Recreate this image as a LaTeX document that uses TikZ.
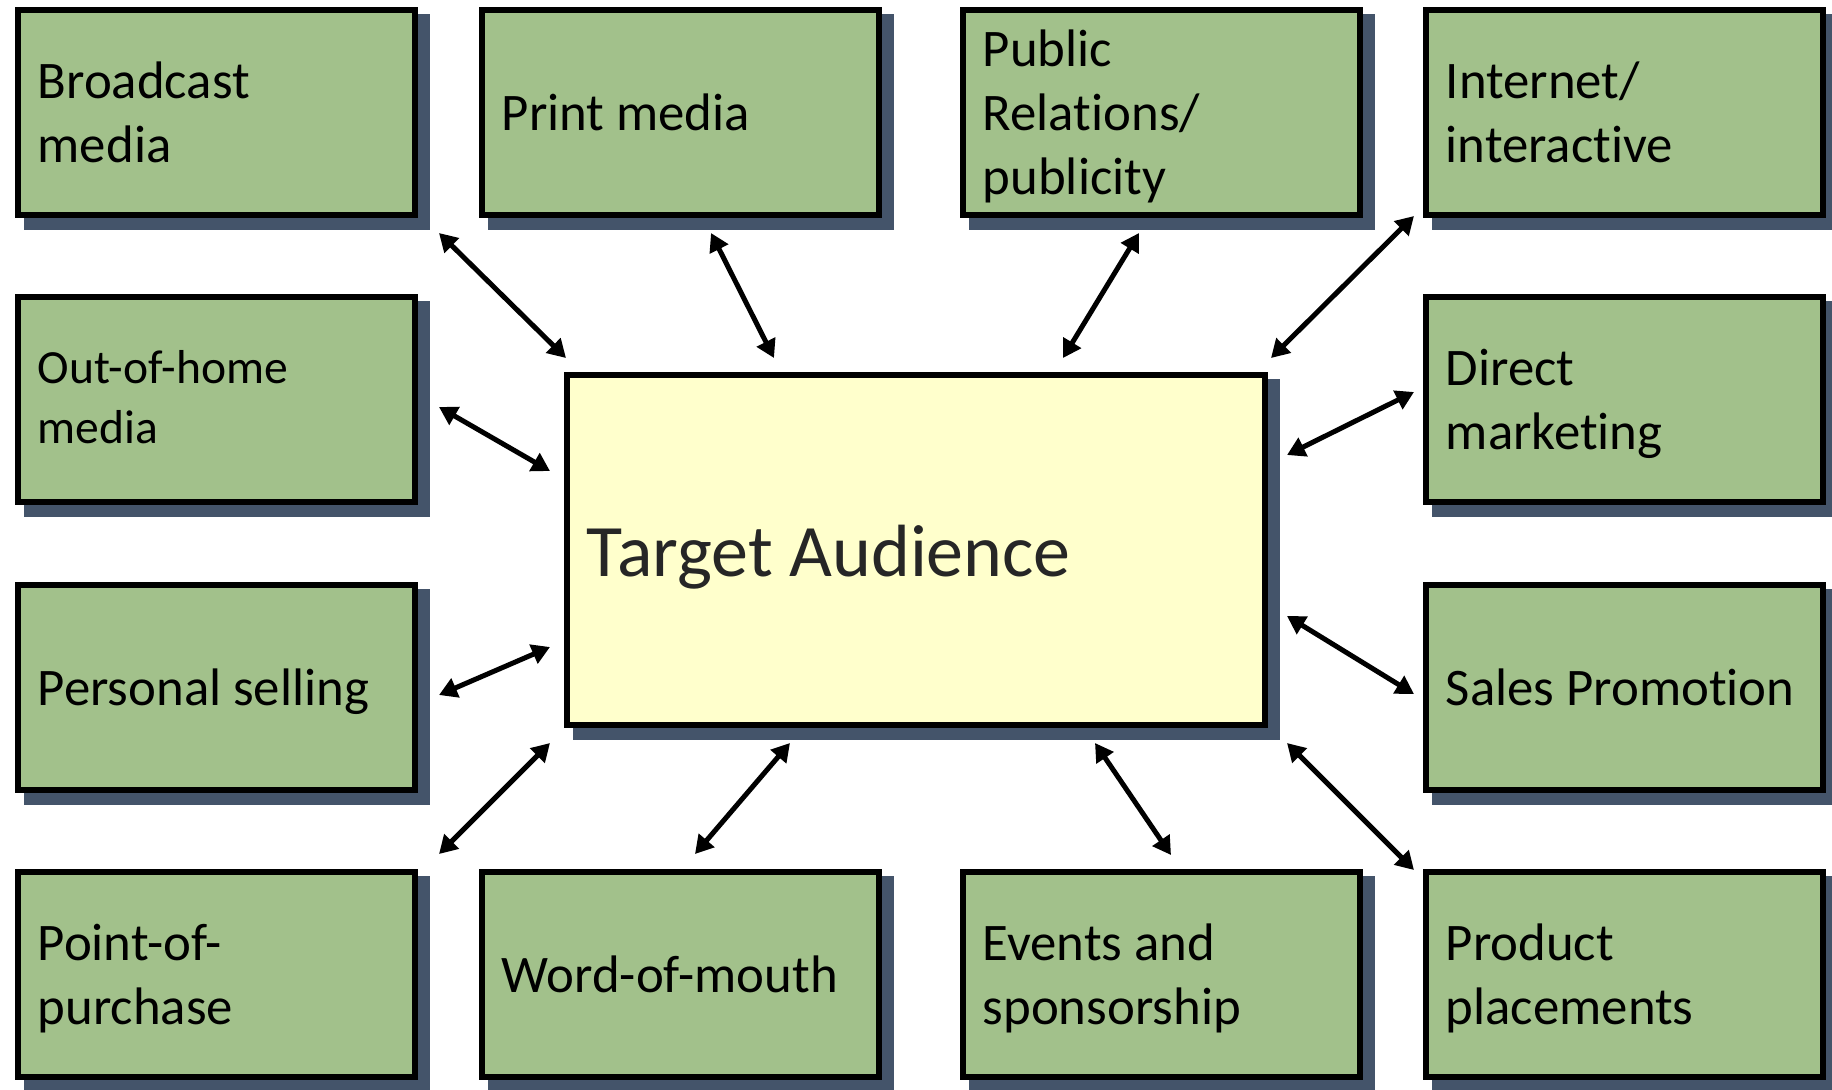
\documentclass[tikz,border=0pt]{standalone}
\usepackage{fontspec}
\setmainfont{Carlito}[Ligatures=NoCommon]
\usetikzlibrary{arrows.meta,backgrounds}

\definecolor{boxgreen}{HTML}{A2C18B}
\definecolor{shadowblue}{HTML}{44546A}
\definecolor{audience}{HTML}{FFFFCC}
\definecolor{ink}{HTML}{262626}

% line struts: fixed height/depth per text line
\newcommand\lstrut{\rule[-7.25pt]{0pt}{32pt}}
\newcommand\sstrut{\rule[-8pt]{0pt}{30pt}}
\newcommand\tstrut{\rule[-6.5pt]{0pt}{39pt}}

\begin{document}
\begin{tikzpicture}[x=0.5pt,y=-0.5pt,
  channel/.style={draw=black, line width=2.8pt, fill=boxgreen,
    minimum width=198.7pt, minimum height=102.7pt,
    inner xsep=10pt, inner ysep=0pt, text width=178.7pt, align=flush left,
    font=\fontsize{26.4pt}{32pt}\selectfont},
  smallchannel/.style={channel, font=\fontsize{23.8pt}{30pt}\selectfont},
  audiencebox/.style={draw=black, line width=2.8pt, fill=audience,
    minimum width=349.2pt, minimum height=175.2pt,
    inner xsep=10pt, inner ysep=0pt, text width=329.2pt, align=flush left,
    text=ink, font=\fontsize{37pt}{44pt}\selectfont},
  conn/.style={line width=2.5pt,
    arrows={Triangle[length=9pt,width=10pt]-Triangle[length=9pt,width=10pt]}}
]
\useasboundingbox (0,0) rectangle (1832,1089);

% communication channels, four columns by four rows
\node[channel] (bc) at (216.5,112.5) {\lstrut Broadcast\\\lstrut media};
\node[channel] (pm) at (680.5,112.5) {\lstrut Print media};
\node[channel] (pr) at (1161.5,112.5) {\lstrut Public\\\lstrut Relations/\\\lstrut publicity};
\node[channel] (ii) at (1624.5,112.5) {\lstrut Internet/\\\lstrut interactive};

\node[smallchannel] (oh) at (216.5,399.5) {\sstrut Out-of-home\\\sstrut media};
\node[channel] (dm) at (1624.5,399.5) {\lstrut Direct\\\lstrut marketing};

\node[channel] (ps) at (216.5,687.5) {\lstrut Personal selling};
\node[channel] (sp) at (1624.5,687.5) {\lstrut Sales Promotion};

\node[channel] (pp) at (216.5,974.5) {\lstrut Point-of-\\\lstrut purchase};
\node[channel] (wm) at (680.5,974.5) {\lstrut Word-of-mouth};
\node[channel] (es) at (1161.5,974.5) {\lstrut Events and\\\lstrut sponsorship};
\node[channel] (pl) at (1624.5,974.5) {\lstrut Product\\\lstrut placements};

% central audience box
\node[audiencebox] (tgt) at (916,550) {\tstrut Target Audience};

% drop shadows and page background
\begin{pgfonlayer}{background}
  \fill[white] (0,0) rectangle (1832,1089);
  \foreach \n in {bc,pm,pr,ii,oh,dm,ps,sp,pp,wm,es,pl,tgt}
    \fill[shadowblue] ([shift={(9,7)}]\n.north west) rectangle ([shift={(12,12)}]\n.south east);
\end{pgfonlayer}

% two-way links between the audience and each channel
\draw[conn] ([shift={(2,-14)}]tgt.north west) -- ([shift={(21,15)}]bc.south east);
\draw[conn] ([shift={(210,-14)}]tgt.north west) -- ([shift={(232,15)}]pm.south west);
\draw[conn] ([shift={(499,-14)}]tgt.north west) -- ([shift={(179,15)}]pr.south west);
\draw[conn] ([shift={(3,-14)}]tgt.north east) -- ([shift={(-9,-2)}]ii.south west);

\draw[conn] ([shift={(-14,99)}]tgt.north west) -- ([shift={(21,113)}]oh.north east);
\draw[conn] ([shift={(19,83)}]tgt.north east) -- ([shift={(-9,98)}]dm.north west);

\draw[conn] ([shift={(-14,275)}]tgt.north west) -- ([shift={(21,113)}]ps.north east);
\draw[conn] ([shift={(19,244)}]tgt.north east) -- ([shift={(-9,112)}]sp.north west);

\draw[conn] ([shift={(-14,15)}]tgt.south west) -- ([shift={(21,-15)}]pp.north east);
\draw[conn] ([shift={(226,15)}]tgt.south west) -- ([shift={(216,-15)}]wm.north west);
\draw[conn] ([shift={(531,15)}]tgt.south west) -- ([shift={(211,-14)}]es.north west);
\draw[conn] ([shift={(19,15)}]tgt.south east) -- ([shift={(-9,1)}]pl.north west);
\end{tikzpicture}
\end{document}
